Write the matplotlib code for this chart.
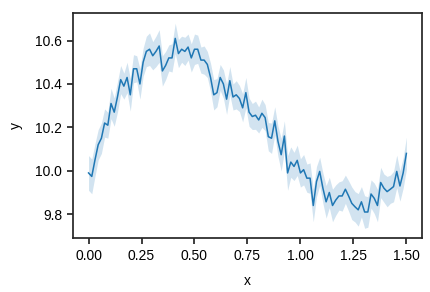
import numpy as np
import matplotlib

matplotlib.use('Agg')
import matplotlib.pyplot as plt


# mean curve, 100 samples from x=0 to x=1.5
X_START = 0.0
X_END = 1.5
Y_MEAN = [
    9.99, 9.974, 10.05, 10.12, 10.15, 10.22, 10.21, 10.31, 10.27, 10.34,
    10.42, 10.39, 10.43, 10.35, 10.47, 10.47, 10.40, 10.50, 10.55, 10.56,
    10.53, 10.55, 10.575, 10.46, 10.485, 10.52, 10.52, 10.61, 10.54, 10.56,
    10.55, 10.57, 10.52, 10.56, 10.56, 10.51, 10.51, 10.49, 10.43, 10.35,
    10.36, 10.43, 10.40, 10.33, 10.415, 10.34, 10.35, 10.333, 10.29, 10.36,
    10.27, 10.25, 10.256, 10.234, 10.265, 10.245, 10.157, 10.15, 10.23, 10.136,
    10.074, 10.16, 9.99, 10.04, 10.02, 10.048, 9.99, 10.005, 9.966, 9.966,
    9.84, 9.95, 9.997, 9.92, 9.857, 9.90, 9.84, 9.865, 9.884, 9.884,
    9.915, 9.884, 9.85, 9.834, 9.82, 9.857, 9.81, 9.81, 9.893, 9.873,
    9.84, 9.946, 9.92, 9.904, 9.915, 9.927, 9.997, 9.93, 9.99, 10.08,
]

# half width of the confidence band at each sample
CI_HALF = [
    0.08, 0.08, 0.075, 0.07, 0.07, 0.065, 0.06, 0.07, 0.065, 0.07,
    0.065, 0.06, 0.07, 0.075, 0.065, 0.06, 0.07, 0.065, 0.07, 0.075,
    0.065, 0.07, 0.075, 0.07, 0.065, 0.06, 0.065, 0.07, 0.065, 0.06,
    0.065, 0.06, 0.065, 0.07, 0.065, 0.06, 0.065, 0.06, 0.065, 0.07,
    0.065, 0.06, 0.065, 0.07, 0.065, 0.06, 0.065, 0.06, 0.065, 0.07,
    0.065, 0.06, 0.065, 0.06, 0.065, 0.06, 0.065, 0.07, 0.065, 0.07,
    0.075, 0.07, 0.08, 0.07, 0.065, 0.07, 0.065, 0.07, 0.065, 0.07,
    0.075, 0.07, 0.065, 0.07, 0.075, 0.07, 0.075, 0.07, 0.065, 0.07,
    0.065, 0.07, 0.075, 0.07, 0.075, 0.07, 0.075, 0.07, 0.065, 0.07,
    0.075, 0.07, 0.065, 0.07, 0.065, 0.07, 0.075, 0.07, 0.07, 0.075,
]

X_TICKS = [0.0, 0.25, 0.5, 0.75, 1.0, 1.25, 1.5]
Y_TICKS = [9.8, 10.0, 10.2, 10.4, 10.6]

LINE_COLOR = '#1f77b4'


def main():
    plt.rcParams['font.family'] = ['Liberation Sans', 'DejaVu Sans']
    plt.rcParams['font.size'] = 10

    x = np.linspace(X_START, X_END, len(Y_MEAN))
    y = np.array(Y_MEAN)
    half = np.array(CI_HALF)

    fig = plt.figure(figsize=(4.3, 2.92), dpi=100)
    ax = fig.add_axes([0.169, 0.184, 0.813, 0.773])

    ax.fill_between(x, y - half, y + half, color=LINE_COLOR, alpha=0.2, linewidth=0)
    ax.plot(x, y, color=LINE_COLOR, linewidth=1.1)

    ax.set_xlim(-0.075, 1.575)
    ax.set_ylim(9.689, 10.729)
    ax.set_xticks(X_TICKS)
    ax.set_xticklabels([f'{t:.2f}' for t in X_TICKS])
    ax.set_yticks(Y_TICKS)
    ax.set_yticklabels([f'{t:.1f}' for t in Y_TICKS])
    ax.set_xlabel('x', labelpad=8)
    ax.set_ylabel('y', labelpad=9)

    for spine in ax.spines.values():
        spine.set_linewidth(1.25)
        spine.set_color('#262626')
    ax.tick_params(length=4, width=1.25, color='#262626', labelcolor='black')

    fig.savefig('out.png', dpi=100)
    plt.close(fig)


if __name__ == '__main__':
    main()
